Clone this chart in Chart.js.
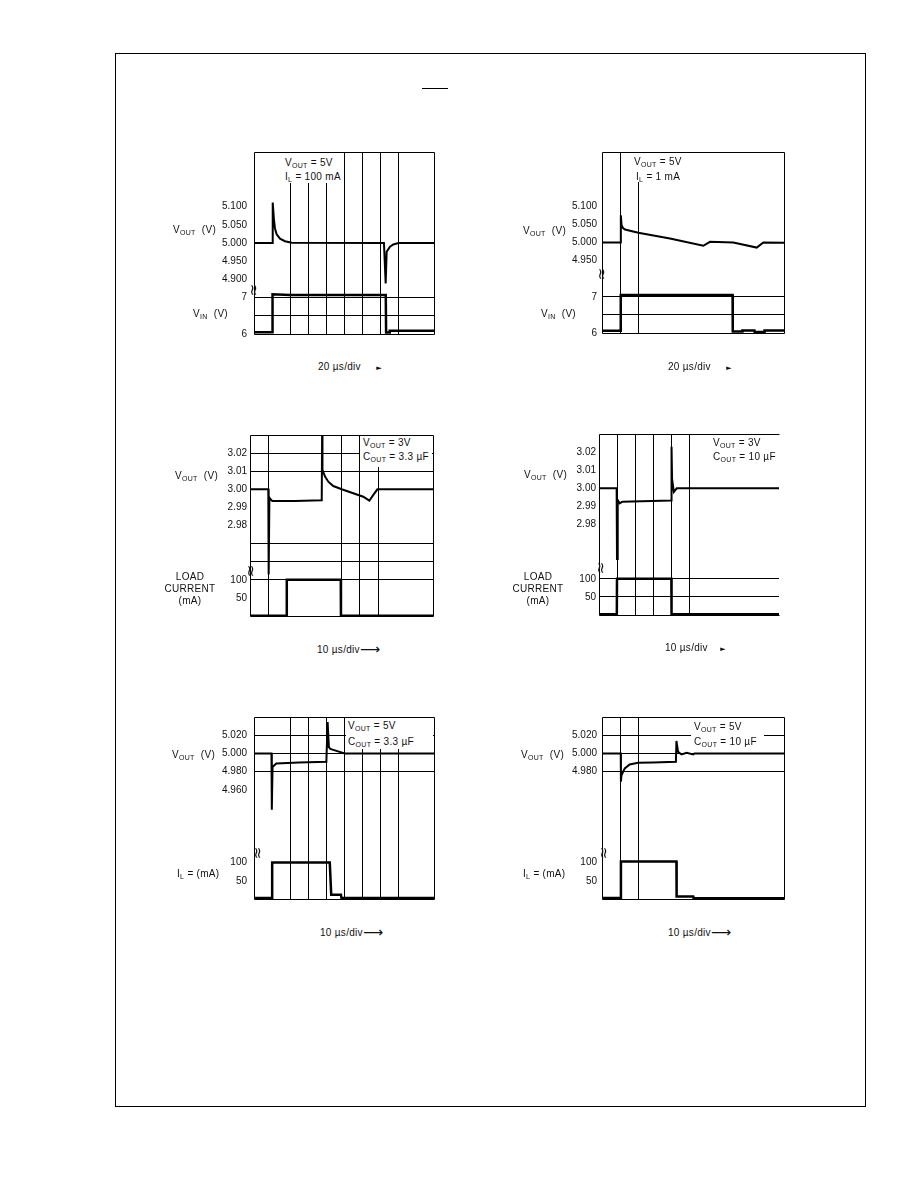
<!DOCTYPE html>
<html>
<head>
<meta charset="utf-8">
<script src="https://cdn.jsdelivr.net/npm/chart.js@4.4.0/dist/chart.umd.min.js"></script>
<style>
    body { margin: 0; background: #fff; }
    #page {
        position: relative; width: 918px; height: 1188px; overflow: hidden;
        font-family: 'Liberation Sans', Arial, sans-serif; font-size: 10px; color: #111;
    }
    .frame { position: absolute; left: 115px; top: 53px; width: 751px; height: 1054px; border: 1px solid #000; box-sizing: border-box; }
    .bar { position: absolute; left: 422px; top: 88px; width: 26px; height: 1px; background: #000; }
    canvas { position: absolute; }
    .lbl { position: absolute; white-space: nowrap; line-height: 12px; transform: translateY(-50%); letter-spacing: 0.3px; }
    .ctr { transform: translate(-50%, -50%); text-align: center; }
    .lbl sub { font-size: 7px; vertical-align: -2px; line-height: 0; }
    .note { position: absolute; background: #fff; }
    .brk { position: absolute; font-family: 'DejaVu Sans', sans-serif; font-size: 15px; line-height: 15px; transform: translate(-50%, -50%) rotate(90deg); }
    .arr { font-family: 'DejaVu Sans', sans-serif; font-size: 7px; }
    .larr { font-family: 'DejaVu Sans', sans-serif; font-size: 14px; vertical-align: -1px; }
</style>
</head>
<body>
<div id="page">
    <div class="frame"></div>
    <div class="bar"></div>
</div>
<script>
// ---- traces (time in µs) ----
// line transient, I_L = 100 mA
const p1Time = [0, 20.3, 20.8, 22.2, 23.3, 25.2, 28.9, 34.4, 41.9, 144.4, 146.3, 147.4, 151.1, 154.8, 160.4, 200];
const p1Vout = [5.000, 5.000, 5.111, 5.063, 5.040, 5.024, 5.012, 5.005, 5.001, 5.000, 4.889, 4.976, 4.990, 4.996, 5.000, 5.000];
const p1InTime = [0, 20.3, 20.6, 40, 146.4, 146.8, 150.4, 150.8, 200];
const p1Vin = [6.05, 6.05, 7.09, 7.07, 7.07, 6.04, 6.04, 6.09, 6.09];

// line transient, I_L = 1 mA
const p2Time = [0, 20.5, 20.7, 21.5, 23, 25.3, 39.9, 74.7, 111.3, 118.7, 144.3, 170, 177.3, 200];
const p2Vout = [5.000, 5.000, 5.075, 5.048, 5.040, 5.036, 5.027, 5.011, 4.991, 5.002, 5.000, 4.986, 5.000, 4.999];
const p2InTime = [0, 20.5, 20.6, 143.5, 143.7, 154, 154.3, 167.5, 167.8, 178.3, 178.6, 200];
const p2Vin = [6.06, 6.06, 7.05, 7.05, 6.04, 6.04, 6.07, 6.07, 6.03, 6.03, 6.07, 6.07];

// load transient, 3 V, 3.3 µF
const p3Time = [0, 10, 10.2, 10.6, 11.2, 12.2, 24.6, 39.2, 39.4, 39.6, 41, 42.8, 45.5, 50.1, 56.4, 61.9, 65.2, 67.4, 69.6, 100];
const p3Vout = [3.000, 3.000, 2.953, 2.9955, 2.9945, 2.9935, 2.9935, 2.994, 3.030, 3.0107, 3.007, 3.0042, 3.0018, 3.000, 2.9978, 2.9959, 2.9937, 2.9969, 3.000, 3.000];
const p3LoadTime = [0, 20, 20.1, 49.6, 49.7, 100];
const p3Load = [1, 1, 100, 100, 1, 1];

// load transient, 3 V, 10 µF
const p4Time = [0, 9.8, 10, 10.4, 11.5, 13, 40.1, 40.3, 40.6, 41.6, 43.2, 100];
const p4Vout = [3.000, 3.000, 2.961, 2.9935, 2.9917, 2.9926, 2.9932, 3.023, 3.005, 2.998, 3.000, 3.000];
const p4LoadTime = [0, 9.9, 10, 40.2, 40.3, 100];
const p4Load = [2, 2, 100, 100, 2, 2];

// load transient, 5 V, 3.3 µF
const p5Time = [0, 9.7, 9.9, 10.3, 12.4, 25, 40.2, 40.9, 41.6, 42.4, 45.8, 50.4, 100];
const p5Vout = [5.000, 5.000, 4.938, 4.985, 4.989, 4.990, 4.9907, 5.0345, 5.007, 5.005, 5.0028, 5.000, 5.000];
const p5LoadTime = [0, 10, 10.1, 42.1, 42.9, 48.3, 48.6, 100];
const p5Load = [2.5, 2.5, 100, 100, 12, 12, 2.5, 2.5];

// load transient, 5 V, 10 µF
const p6Time = [0, 10.3, 10.4, 10.7, 12.5, 15.2, 19.8, 28.1, 40.6, 40.9, 41.8, 43.7, 46.5, 50.1, 50.8, 100];
const p6Vout = [5.000, 5.000, 4.969, 4.976, 4.9835, 4.9879, 4.9896, 4.990, 4.9907, 5.0137, 5.0017, 4.9988, 5.0006, 4.9988, 5.000, 5.000];
const p6LoadTime = [0, 10.3, 10.4, 40.9, 41.0, 50.1, 50.3, 100];
const p6Load = [2.5, 2.5, 103, 103, 7, 7, 2, 2];

// ---- tick labels ----
const vout5Ticks = [5.1, 5.05, 5.0, 4.95, 4.9];
const vout5Labels = ['5.100', '5.050', '5.000', '4.950', '4.900'];
const vinTicks = [7, 6];
const vinLabels = ['7', '6'];
const vout3Ticks = [3.02, 3.01, 3.0, 2.99, 2.98];
const vout3Labels = ['3.02', '3.01', '3.00', '2.99', '2.98'];
const voutFineTicks = [5.02, 5.0, 4.98, 4.96];
const voutFineLabels = ['5.020', '5.000', '4.980', '4.960'];
const loadTicks = [100, 50];
const loadLabels = ['100', '50'];

const FONT = { family: "'Liberation Sans', Arial, sans-serif", size: 10 };
const PAD = { left: 70, top: 12, right: 12, bottom: 12 };
const page = document.getElementById('page');

const pts = (xs, ys) => xs.map((x, i) => ({ x, y: ys[i] }));

// width of the widest tick label, so mirrored labels can be pushed left of the frame
const measureCtx = document.createElement('canvas').getContext('2d');
measureCtx.font = "10px 'Liberation Sans', Arial, sans-serif";
const widest = labels => Math.max(...labels.map(s => measureCtx.measureText(s).width));

const boxFrame = {
    id: 'boxFrame',
    beforeDatasetsDraw(chart, args, opts) {
        const { left, top, right, bottom } = chart.chartArea;
        const c = chart.ctx;
        c.save();
        c.strokeStyle = '#000';
        c.lineWidth = 1;
        c.beginPath();
        c.moveTo(right + 0.5, top + 0.5);
        c.lineTo(left + 0.5, top + 0.5);
        c.lineTo(left + 0.5, bottom + 0.5);
        c.lineTo(right + 0.5, bottom + 0.5);
        if (opts.right !== false) c.lineTo(right + 0.5, top + 0.5);
        c.stroke();
        c.restore();
    }
};

function yAxis(min, max, ticks, labels, grid, gap) {
    const used = labels.slice(0, ticks.length);
    return {
        position: 'left', min, max,
        afterBuildTicks: ax => {
            ax.ticks = ticks.concat(grid.filter(g => !ticks.includes(g))).map(value => ({ value }));
        },
        afterFit: ax => { ax.width = 0; },
        ticks: {
            autoSkip: false, mirror: true, crossAlign: 'far',
            padding: -(gap + widest(used)),
            color: '#111', font: FONT,
            callback: v => { const i = ticks.indexOf(v); return i < 0 ? '' : labels[i]; },
        },
        grid: {
            drawTicks: false, lineWidth: 1,
            color: c => (c.tick && grid.includes(c.tick.value)) ? '#000' : 'rgba(0,0,0,0)',
        },
        border: { display: false },
    };
}

function scope(p) {
    const cv = document.createElement('canvas');
    cv.width = p.box.w + PAD.left + PAD.right;
    cv.height = p.box.h + PAD.top + PAD.bottom;
    cv.style.left = (p.box.x - PAD.left) + 'px';
    cv.style.top = (p.box.y - PAD.top) + 'px';
    page.appendChild(cv);
    new Chart(cv, {
        type: 'line',
        data: {
            datasets: [
                { data: p.vout, yAxisID: 'v', borderColor: '#000', borderWidth: 2, pointRadius: 0, tension: 0 },
                { data: p.aux, yAxisID: 'a', borderColor: '#000', borderWidth: 2.5, pointRadius: 0, tension: 0 },
            ]
        },
        options: {
            responsive: false,
            animation: false,
            events: [],
            layout: { padding: PAD },
            plugins: { legend: { display: false }, tooltip: { enabled: false }, boxFrame: { right: p.right } },
            scales: {
                x: {
                    type: 'linear', min: 0, max: p.xMax,
                    afterBuildTicks: ax => { ax.ticks = p.xGrid.map(value => ({ value })); },
                    afterFit: ax => { ax.height = 0; },
                    ticks: { display: false },
                    grid: { drawTicks: false, color: '#000', lineWidth: 1 },
                    border: { display: false },
                },
                v: yAxis(p.vAxis[0], p.vAxis[1], p.vAxis[2], p.vAxis[3], p.vAxis[4], p.pad),
                a: yAxis(p.aAxis[0], p.aAxis[1], p.aAxis[2], p.aAxis[3], p.aAxis[4], p.pad),
            }
        },
        plugins: [boxFrame]
    });
}

scope({ box: { x: 254, y: 152, w: 180, h: 182 }, xMax: 200, xGrid: [40, 60, 80, 100, 120, 140, 160], pad: 7,
    vout: pts(p1Time, p1Vout), aux: pts(p1InTime, p1Vin),
    vAxis: [4.75, 5.25, vout5Ticks, vout5Labels, []], aAxis: [6, 11, vinTicks, vinLabels, [7, 6.5]] });
scope({ box: { x: 602, y: 152, w: 182, h: 181 }, xMax: 200, xGrid: [20, 40], pad: 5,
    vout: pts(p2Time, p2Vout), aux: pts(p2InTime, p2Vin),
    vAxis: [4.75, 5.25, vout5Ticks.slice(0, 4), vout5Labels, []], aAxis: [6, 11, vinTicks, vinLabels, [7, 6.5]] });
scope({ box: { x: 250, y: 435, w: 183, h: 181 }, xMax: 100, xGrid: [10, 50, 60, 70], pad: 3,
    vout: pts(p3Time, p3Vout), aux: pts(p3LoadTime, p3Load),
    vAxis: [2.93, 3.03, vout3Ticks, vout3Labels, [3.02, 3.01]], aAxis: [0, 500, loadTicks, loadLabels, [100, 150, 200]] });
scope({ box: { x: 599, y: 434, w: 180, h: 181 }, xMax: 100, xGrid: [10, 20, 30, 40, 50], pad: 3, right: false,
    vout: pts(p4Time, p4Vout), aux: pts(p4LoadTime, p4Load),
    vAxis: [2.93, 3.03, vout3Ticks, vout3Labels, []], aAxis: [0, 500, loadTicks, loadLabels, [100, 50]] });
scope({ box: { x: 254, y: 717, w: 180, h: 182 }, xMax: 100, xGrid: [20, 30, 40, 50, 60, 70, 80], pad: 7,
    vout: pts(p5Time, p5Vout), aux: pts(p5LoadTime, p5Load),
    vAxis: [4.84, 5.04, voutFineTicks, voutFineLabels, [5.02, 5.0, 4.98]], aAxis: [0, 500, loadTicks, loadLabels, []] });
scope({ box: { x: 602, y: 717, w: 182, h: 182 }, xMax: 100, xGrid: [10, 20], pad: 5,
    vout: pts(p6Time, p6Vout), aux: pts(p6LoadTime, p6Load),
    vAxis: [4.84, 5.04, voutFineTicks.slice(0, 3), voutFineLabels, [5.02, 5.0, 4.98]], aAxis: [0, 500, loadTicks, loadLabels, []] });

// ---- text ----
const VOUT = 'V<sub>OUT</sub>&nbsp;&nbsp;(V)';
const VIN = 'V<sub>IN</sub>&nbsp;&nbsp;(V)';
const IL = 'I<sub>L</sub> = (mA)';

function label(x, y, html, cls) {
    const d = document.createElement('div');
    d.className = 'lbl' + (cls ? ' ' + cls : '');
    d.style.left = x + 'px';
    d.style.top = y + 'px';
    d.innerHTML = html;
    page.appendChild(d);
}
function note(x, y, w, h, lines) {
    const d = document.createElement('div');
    d.className = 'note';
    Object.assign(d.style, { left: x + 'px', top: y + 'px', width: w + 'px', height: h + 'px' });
    page.appendChild(d);
    lines.forEach(l => label(l[0], l[1], l[2]));
}
function brk(x, y) {
    const d = document.createElement('div');
    d.className = 'brk';
    d.style.left = x + 'px';
    d.style.top = y + 'px';
    d.textContent = '≈';
    page.appendChild(d);
}

label(173, 230, VOUT); label(193, 314, VIN);
label(523, 231, VOUT); label(541, 314, VIN);
label(175, 476, VOUT);
label(190, 577, 'LOAD', 'ctr'); label(190, 589, 'CURRENT', 'ctr'); label(190, 601, '(mA)', 'ctr');
label(524, 475, VOUT);
label(538, 577, 'LOAD', 'ctr'); label(538, 589, 'CURRENT', 'ctr'); label(538, 601, '(mA)', 'ctr');
label(172, 755, VOUT); label(177, 874, IL);
label(521, 755, VOUT); label(523, 874, IL);

note(284, 153, 60, 30, [[285, 163, 'V<sub>OUT</sub> = 5V'], [285, 177, 'I<sub>L</sub> = 100 mA']]);
note(632, 153, 54, 29, [[634, 162, 'V<sub>OUT</sub> = 5V'], [636, 177, 'I<sub>L</sub> = 1 mA']]);
note(360, 436, 72, 31, [[363, 443, 'V<sub>OUT</sub> = 3V'], [363, 457, 'C<sub>OUT</sub> = 3.3 µF']]);
note(711, 436, 67, 29, [[713, 443, 'V<sub>OUT</sub> = 3V'], [713, 457, 'C<sub>OUT</sub> = 10 µF']]);
note(346, 718, 87, 31, [[348, 726, 'V<sub>OUT</sub> = 5V'], [348, 742, 'C<sub>OUT</sub> = 3.3 µF']]);
note(691, 719, 73, 31, [[694, 727, 'V<sub>OUT</sub> = 5V'], [694, 742, 'C<sub>OUT</sub> = 10 µF']]);

label(318, 367, '20 µs/div&nbsp;&nbsp;&nbsp;&nbsp;&nbsp;<span class="arr">►</span>');
label(668, 367, '20 µs/div&nbsp;&nbsp;&nbsp;&nbsp;&nbsp;<span class="arr">►</span>');
label(317, 649, '10 µs/div<span class="larr">⟶</span>');
label(665, 648, '10 µs/div&nbsp;&nbsp;&nbsp;&nbsp;<span class="arr">►</span>');
label(320, 932, '10 µs/div<span class="larr">⟶</span>');
label(668, 932, '10 µs/div<span class="larr">⟶</span>');

brk(253, 290); brk(601, 274); brk(250, 571); brk(600, 568); brk(257, 853); brk(603, 853);
</script>
</body>
</html>
